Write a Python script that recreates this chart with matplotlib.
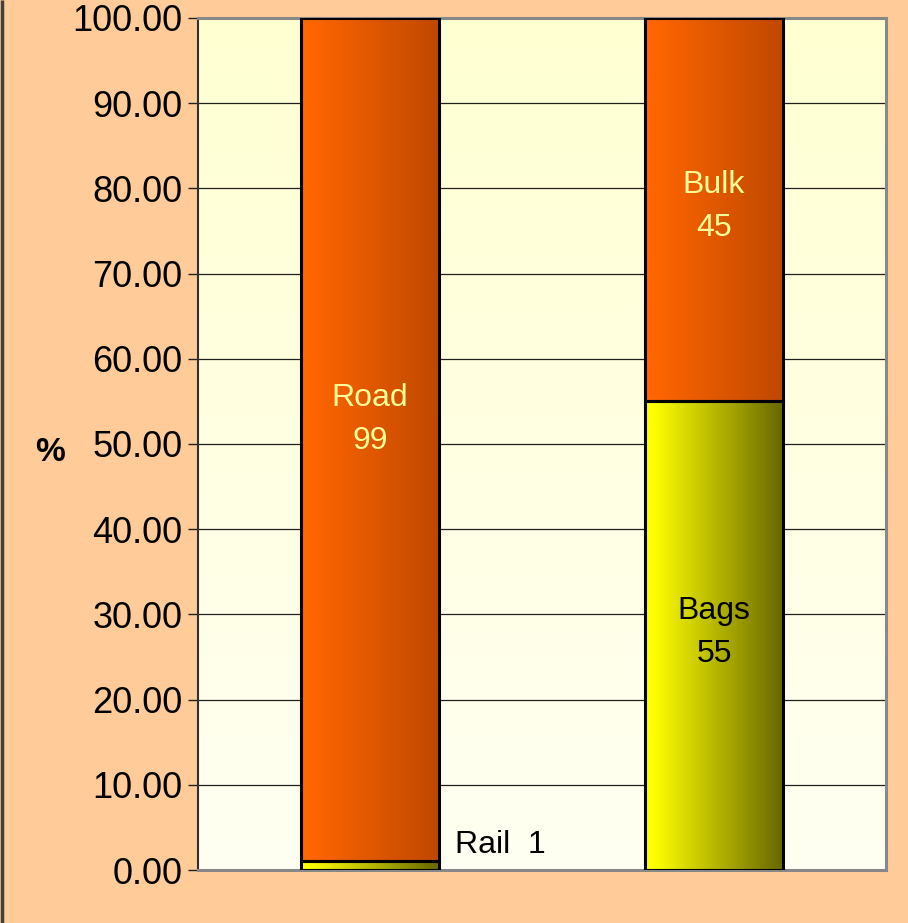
import numpy as np
import matplotlib.pyplot as plt
from matplotlib.patches import Rectangle
from matplotlib.colors import LinearSegmentedColormap

plt.rcParams['font.family'] = ['Liberation Sans', 'DejaVu Sans']

# data
groups = ['Mode', 'Packing']
bottom_names = ['Rail', 'Bags']
bottom_vals = [1, 55]
top_names = ['Road', 'Bulk']
top_vals = [99, 45]
yticks = np.arange(0, 101, 10)

fig = plt.figure(figsize=(9.08, 9.23), dpi=100)
fig.patch.set_facecolor('#FFCC99')
fig.add_artist(Rectangle((0.002, 0), 0.0, 1, transform=fig.transFigure,
                         edgecolor='#404040', lw=2.5, fill=False))

ax = fig.add_axes([198 / 908, 53 / 923, 688 / 908, 852 / 923])
ax.set_xlim(-0.5, 1.5)
ax.set_ylim(0, 100)

# plot area background gradient
bg = LinearSegmentedColormap.from_list('bg', ['#FFFFF2', '#FFFFD2'])
ax.imshow(np.linspace(0, 1, 256).reshape(-1, 1), cmap=bg, aspect='auto',
          extent=(-0.5, 1.5, 0, 100), origin='lower', zorder=0)

for y in yticks[1:-1]:
    ax.axhline(y, color='#202020', lw=0.9, zorder=1)

orange = LinearSegmentedColormap.from_list(
    'or', [(0, '#FF6600'), (0.06, '#FF6600'), (1, '#BF4800')])
yellow = LinearSegmentedColormap.from_list(
    'ye', [(0, '#FFFF00'), (0.06, '#FFFF00'), (1, '#686800')])
grad = np.linspace(0, 1, 256).reshape(1, -1)
width = 0.4

def gbar(x, y0, h, cmap):
    x0 = x - width / 2
    im = ax.imshow(grad, cmap=cmap, aspect='auto',
                   extent=(x0, x0 + width, y0, y0 + h), zorder=2)
    r = Rectangle((x0, y0), width, h, facecolor='none', edgecolor='black',
                  lw=2.2, zorder=3)
    ax.add_patch(r)
    im.set_clip_path(r)

for i in range(len(groups)):
    gbar(i, 0, bottom_vals[i], yellow)
    gbar(i, bottom_vals[i], top_vals[i], orange)

# labels
fs = 23
kw = dict(ha='center', va='center', fontsize=fs, linespacing=1.55, zorder=4)
ax.text(0, bottom_vals[0] + top_vals[0] / 2 + 2.4, f'{top_names[0]}\n{top_vals[0]}',
        color='#FFFF99', **kw)
ax.text(1, bottom_vals[1] + top_vals[1] / 2 + 0.4, f'{top_names[1]}\n{top_vals[1]}',
        color='#FFFF99', **kw)
ax.text(1, bottom_vals[1] / 2 + 0.4, f'{bottom_names[1]}\n{bottom_vals[1]}',
        color='black', **kw)
ax.text(0.248, 2.9, f'{bottom_names[0]}  {bottom_vals[0]}',
        ha='left', va='center', color='black', fontsize=fs, zorder=4)

ax.set_yticks(yticks)
ax.set_yticklabels([f'{v:.2f}' for v in yticks], fontsize=26)
ax.set_xticks([])
ax.tick_params(axis='y', length=7, width=1, color='#202020', pad=4)
ax.set_ylabel('%', fontsize=24, fontweight='bold', rotation=0, va='center', ha='center')
ax.yaxis.set_label_coords(-0.215, 0.49)

ax.spines['left'].set_color('#303030')
ax.spines['left'].set_linewidth(1.5)
for s in ['top', 'right', 'bottom']:
    ax.spines[s].set_color('#888888')
    ax.spines[s].set_linewidth(2.2)

fig.savefig('out.png', dpi=100, facecolor=fig.get_facecolor())
